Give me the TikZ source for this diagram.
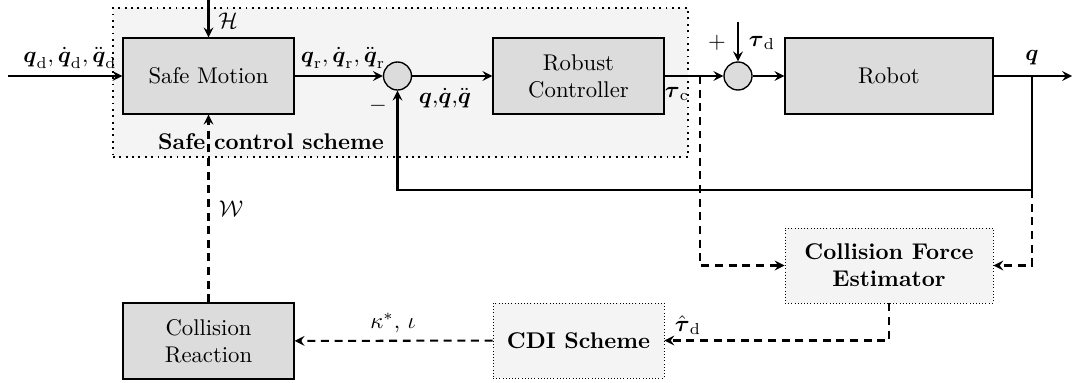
\documentclass[tikz,border=0pt]{standalone}
\usepackage{amsmath,amssymb}
\usetikzlibrary{arrows}
\newlength{\du}
\setlength{\du}{0.44pt}
\definecolor{blockgray}{rgb}{0.863, 0.863, 0.863}
\definecolor{schemegray}{rgb}{0.957, 0.957, 0.957}
\tikzset{
  blockbox/.style={draw=black, fill=blockgray, line width=0.6pt, align=center,
    minimum width=171\du, minimum height=76\du, inner sep=0pt},
  estbox/.style={draw=black, densely dotted, fill=schemegray, line width=0.4pt,
    align=center, font=\bfseries, inner sep=0pt},
  sumnode/.style={circle, draw=black, fill=blockgray, line width=0.6pt,
    minimum size=28\du, inner sep=0pt},
  sigline/.style={line width=0.9pt, ->, >=stealth},
  dashline/.style={line width=0.9pt, dash pattern=on 3.5pt off 2.5pt, ->, >=stealth},
}

\begin{document}
\begin{tikzpicture}
\pgftransformxscale{1.000000}
\pgftransformyscale{-1.000000}
\useasboundingbox (0\du,0\du) rectangle (1077\du,383\du);
% safe control scheme frame
\node[draw=black, dotted, line width=0.8pt, fill=schemegray, minimum width=575\du, minimum height=149\du, inner sep=0pt] (scheme) at (400.5\du,82.5\du){};
\node[font=\bfseries] (schemelabel) at (271\du,142\du){Safe control scheme};
% blocks
\node[blockbox] (safemotion) at (208.5\du,76\du){Safe Motion};
\node[sumnode] (sum1) at (397.5\du,76\du){};
\node[blockbox] (robust) at (578.5\du,76\du){Robust\\Controller};
\node[sumnode] (sum2) at (738\du,76\du){};
\node[blockbox, minimum width=208\du] (robot) at (889\du,76\du){Robot};
\node[estbox, minimum width=208\du, minimum height=75\du] (cfe) at (889\du,265.5\du){Collision Force\\Estimator};
\node[estbox, minimum width=171\du, minimum height=75\du] (cdi) at (578.5\du,340.5\du){CDI Scheme};
\node[blockbox] (reaction) at (208.5\du,341\du){Collision\\Reaction};
% free ends
\coordinate (qin) at (8\du,76\du);
\coordinate (htop) at (208.5\du,0\du);
\coordinate (tdtop) at (738\du,22\du);
\coordinate (qout) at (1072\du,76\du);
\coordinate (branch) at (1032\du,76\du);
\coordinate (fb) at (1032\du,190\du);
\coordinate (tap) at (700\du,76\du);
% signal lines
\draw[sigline] (qin) -- (safemotion);
\node (qdlabel) at (70\du,58\du){$\boldsymbol{q}_\mathrm{d},\dot{\boldsymbol{q}}_\mathrm{d},\ddot{\boldsymbol{q}}_\mathrm{d}$};
\draw[sigline] (htop) -- (safemotion);
\node (hlabel) at (228\du,21\du){$\mathcal{H}$};
\draw[sigline] (safemotion) -- (sum1);
\node (qrlabel) at (343\du,58\du){$\boldsymbol{q}_\mathrm{r},\dot{\boldsymbol{q}}_\mathrm{r},\ddot{\boldsymbol{q}}_\mathrm{r}$};
\draw[sigline] (sum1) -- (robust);
\node (qlabel) at (445\du,98\du){$\boldsymbol{q}$,$\dot{\boldsymbol{q}}$,$\ddot{\boldsymbol{q}}$};
\node (minus) at (378\du,106\du){$-$};
\draw[sigline] (robust) -- (sum2);
\node (tclabel) at (677\du,94\du){$\boldsymbol{\tau}_\mathrm{c}$};
\draw[sigline] (tdtop) -- (sum2);
\node (plus) at (717\du,43\du){$+$};
\node (tdlabel) at (762\du,43\du){$\boldsymbol{\tau}_\mathrm{d}$};
\draw[sigline] (sum2) -- (robot);
\draw[sigline] (robot) -- (qout);
\node (qoutlabel) at (1032\du,58\du){$\boldsymbol{q}$};
\draw[line width=0.9pt] (branch) -- (fb);
\draw[sigline] (fb) -| (sum1);
% collision handling
\draw[dashline] (tap) |- (cfe);
\draw[dashline] (fb) |- (cfe);
\draw[dashline] (cfe) |- (cdi);
\node (thlabel) at (688\du,325\du){$\hat{\boldsymbol{\tau}}_\mathrm{d}$};
\draw[dashline] (cdi) -- (reaction);
\node (kappalabel) at (393\du,323\du){$\kappa^{*},\,\iota$};
\draw[dashline] (reaction) -- (safemotion);
\node (wlabel) at (231\du,209\du){$\mathcal{W}$};
\end{tikzpicture}
\end{document}
